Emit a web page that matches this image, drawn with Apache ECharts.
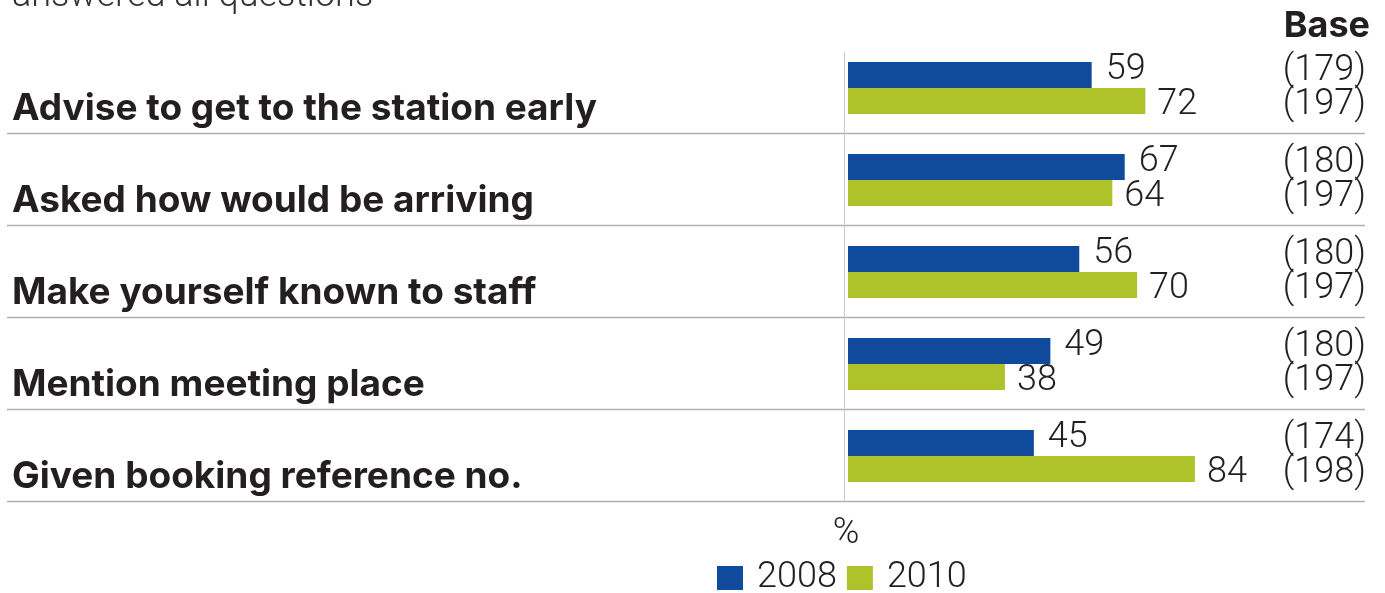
<!DOCTYPE html>
<html>
<head>
<meta charset="utf-8">
<script src="https://cdn.jsdelivr.net/npm/echarts@6/dist/echarts.min.js"></script>
<style>
  html, body { margin: 0; padding: 0; background: #ffffff; }
  #chart { width: 1385px; height: 593px; }
</style>
</head>
<body>
<div id="chart"></div>
<script>
// Survey items, in display order (top to bottom)
const categories = [
  'Advise to get to the station early',
  'Asked how would be arriving',
  'Make yourself known to staff',
  'Mention meeting place',
  'Given booking reference no.'
];
// Percentages per survey year
const values2008 = [59, 67, 56, 49, 45];
const values2010 = [72, 64, 70, 38, 84];
// Base sizes per survey year
const base2008 = [179, 180, 180, 180, 174];
const base2010 = [197, 197, 197, 197, 198];
const seriesNames = ['2008', '2010'];

const LIGHT = 'Roboto, "Liberation Sans", Arial, sans-serif';
const BOLD = 'Inter, "Liberation Sans", Arial, sans-serif';
const TEXT = '#231f20';
const BLUE = '#104a9c';
const GREEN = '#aec32a';

const chart = echarts.init(document.getElementById('chart'), null, { renderer: 'canvas' });

const option = {
  backgroundColor: '#ffffff',
  animation: false,
  textStyle: { fontFamily: LIGHT },
  legend: {
    data: seriesNames,
    top: 555,
    left: 712,
    icon: 'rect',
    itemWidth: 26,
    itemHeight: 24,
    itemGap: 10,
    selectedMode: false,
    textStyle: {
      fontFamily: LIGHT, fontWeight: 300, fontSize: 36, color: TEXT,
      padding: [0, 0, 0, 9]
    }
  },
  grid: { left: 848, right: 124, top: 42, height: 460 },
  xAxis: {
    type: 'value', min: 0, max: 100, show: false
  },
  yAxis: [
    {
      type: 'category',
      data: categories,
      inverse: true,
      axisLine: { show: false },
      axisTick: { show: false },
      splitLine: { show: false },
      axisLabel: {
        align: 'left',
        margin: 836,
        lineHeight: 42,
        fontFamily: BOLD,
        fontSize: 37,
        fontWeight: 'bold',
        color: TEXT,
        // empty first line drops the item text toward the row's lower edge
        formatter: v => '\n' + v
      }
    },
    {
      type: 'category',
      data: categories,
      inverse: true,
      position: 'right',
      axisLine: { show: false },
      axisTick: { show: false },
      splitLine: { show: false },
      axisLabel: {
        align: 'right',
        margin: 105,
        lineHeight: 34,
        fontFamily: LIGHT,
        fontWeight: 300,
        fontSize: 36,
        color: TEXT,
        formatter: (v, i) => '(' + base2008[i] + ')\n(' + base2010[i] + ')'
      }
    }
  ],
  series: [
    {
      name: seriesNames[0],
      type: 'bar',
      data: values2008,
      barWidth: 26,
      barGap: '0%',
      itemStyle: { color: BLUE },
      label: {
        show: true, position: 'right', distance: 14, offset: [0, -5],
        fontFamily: LIGHT, fontWeight: 300, fontSize: 36, color: TEXT
      }
    },
    {
      name: seriesNames[1],
      type: 'bar',
      data: values2010,
      barWidth: 26,
      barGap: '0%',
      itemStyle: { color: GREEN },
      label: {
        show: true, position: 'right', distance: 12, offset: [0, 4],
        fontFamily: LIGHT, fontWeight: 300, fontSize: 36, color: TEXT
      }
    }
  ]
};

chart.setOption(option);

// Headings, unit note, row separators and the thin rule beside the bars
function drawDecorations() {
  const step = chart.convertToPixel({ yAxisIndex: 0 }, 1) - chart.convertToPixel({ yAxisIndex: 0 }, 0);
  const x0 = chart.convertToPixel({ xAxisIndex: 0 }, 0);
  const elements = [
    {
      type: 'text', silent: true,
      style: {
        text: 'answered all questions', x: 12, y: -3,
        align: 'left', verticalAlign: 'middle',
        fontFamily: LIGHT, fontWeight: 300, fontSize: 36, fill: '#333333'
      }
    },
    {
      type: 'text', silent: true,
      style: {
        text: 'Base', x: 1370, y: 26,
        align: 'right', verticalAlign: 'middle',
        fontFamily: BOLD, fontWeight: 'bold', fontSize: 36, fill: TEXT
      }
    },
    {
      type: 'text', silent: true,
      style: {
        text: '%', x: 846, y: 534,
        align: 'center', verticalAlign: 'middle',
        fontFamily: LIGHT, fontWeight: 300, fontSize: 36, fill: TEXT
      }
    }
  ];
  categories.forEach((c, i) => {
    const y = Math.round(chart.convertToPixel({ yAxisIndex: 0 }, i) + step / 2) - 0.5;
    elements.push({
      type: 'line', silent: true,
      shape: { x1: 7, y1: y, x2: 1365, y2: y },
      style: { stroke: '#b0b0b0', lineWidth: 1.5 }
    });
  });
  const yTop = chart.convertToPixel({ yAxisIndex: 0 }, 0) - step / 2 + 10;
  const yBot = chart.convertToPixel({ yAxisIndex: 0 }, categories.length - 1) + step / 2 - 2;
  elements.push({
    type: 'line', silent: true, z: 10,
    shape: { x1: x0 - 3.5, y1: yTop, x2: x0 - 3.5, y2: yBot },
    style: { stroke: '#c8c8c8', lineWidth: 1 }
  });
  chart.setOption({ graphic: elements });
}
drawDecorations();
</script>
</body>
</html>
